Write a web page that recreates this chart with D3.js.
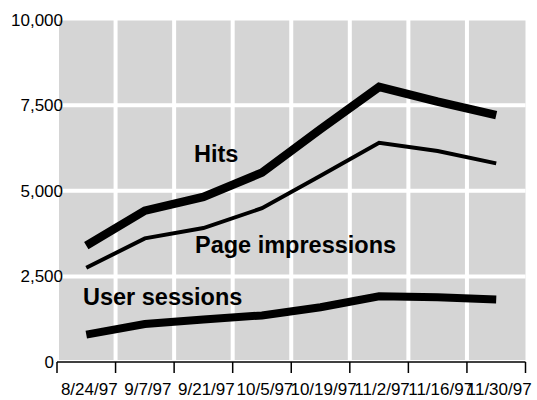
<!DOCTYPE html>
<html><head><meta charset="utf-8">
<script src="https://cdn.jsdelivr.net/npm/d3@7"></script>
<style>
html,body{margin:0;padding:0;background:#fff;}
svg{display:block;font-family:"Liberation Sans",Arial,sans-serif;}
</style></head>
<body>
<svg id="chart" width="537" height="400"></svg>
<script>
const dates = ["8/24/97","9/7/97","9/21/97","10/5/97","10/19/97","11/2/97","11/16/97","11/30/97"];
const hits = [3400, 4420, 4820, 5530, 6800, 8030, 7600, 7210];
const pageImpressions = [2750, 3610, 3910, 4490, 5440, 6400, 6160, 5800];
const userSessions = [800, 1110, 1240, 1360, 1600, 1920, 1890, 1825];
const yTicks = [0, 2500, 5000, 7500, 10000];
const seriesLabels = ["Hits", "Page impressions", "User sessions"];

const svg = d3.select("#chart");
const x0 = 57, x1 = 525.5, yBottom = 362, yTop = 19.5;

const x = d3.scaleBand().domain(dates).range([x0, x1]).paddingInner(0).paddingOuter(0);
const y = d3.scaleLinear().domain([0, 10000]).range([yBottom, yTop]);
const xc = d => x(d) + x.bandwidth() / 2;

// plot background
svg.append("rect")
  .attr("x", x0 + 2).attr("y", y(10000) + 1)
  .attr("width", x1 - x0 - 2).attr("height", y(0) - 2 - (y(10000) + 1))
  .attr("fill", "#d5d5d5");

// white grid lines
const g = svg.append("g");
dates.slice(1).forEach(d => {
  g.append("line").attr("x1", x(d)).attr("x2", x(d))
    .attr("y1", y(10000)).attr("y2", y(0) - 2)
    .attr("stroke", "#fff").attr("stroke-width", 4);
});
yTicks.filter(v => v > 0 && v < 10000).forEach(v => {
  g.append("line").attr("x1", x0 + 2).attr("x2", x1)
    .attr("y1", y(v)).attr("y2", y(v))
    .attr("stroke", "#fff").attr("stroke-width", 4);
});

// x axis
const tickPos = dates.map(d => x(d)).concat([x1]);
svg.append("line").attr("x1", x0).attr("x2", x1).attr("y1", yBottom).attr("y2", yBottom)
  .attr("stroke", "#000").attr("stroke-width", 1.5);
tickPos.forEach(p => {
  svg.append("line").attr("x1", p).attr("x2", p).attr("y1", yBottom).attr("y2", yBottom + 11)
    .attr("stroke", "#000").attr("stroke-width", 1.5);
});
dates.forEach(d => {
  svg.append("text").attr("x", xc(d) + 3).attr("y", 394.5)
    .attr("text-anchor", "middle").attr("font-size", 17).attr("fill", "#000").text(d);
});

// y labels
const fmt = d3.format(",");
yTicks.forEach(v => {
  svg.append("text").attr("x", v === 0 ? 54 : 63).attr("y", y(v)).attr("dy", "0.36em")
    .attr("text-anchor", "end").attr("font-size", 17).attr("fill", "#000").text(fmt(v));
});

// lines
const line = d3.line().x((d, i) => xc(dates[i])).y(d => y(d));
const series = [
  {vals: hits, w: 8.5},
  {vals: pageImpressions, w: 4},
  {vals: userSessions, w: 8}
];
series.forEach(s => {
  svg.append("path").attr("d", line(s.vals)).attr("fill", "none")
    .attr("stroke", "#000").attr("stroke-width", s.w)
    .attr("stroke-linejoin", "miter").attr("stroke-linecap", "butt");
});

// series labels
const labelPos = [[194, 161.5], [195, 253], [83, 305]];
seriesLabels.forEach((t, i) => {
  svg.append("text").attr("x", labelPos[i][0]).attr("y", labelPos[i][1])
    .attr("font-size", 23.5).attr("font-weight", "bold").attr("fill", "#000").text(t);
});
</script>
</body></html>
